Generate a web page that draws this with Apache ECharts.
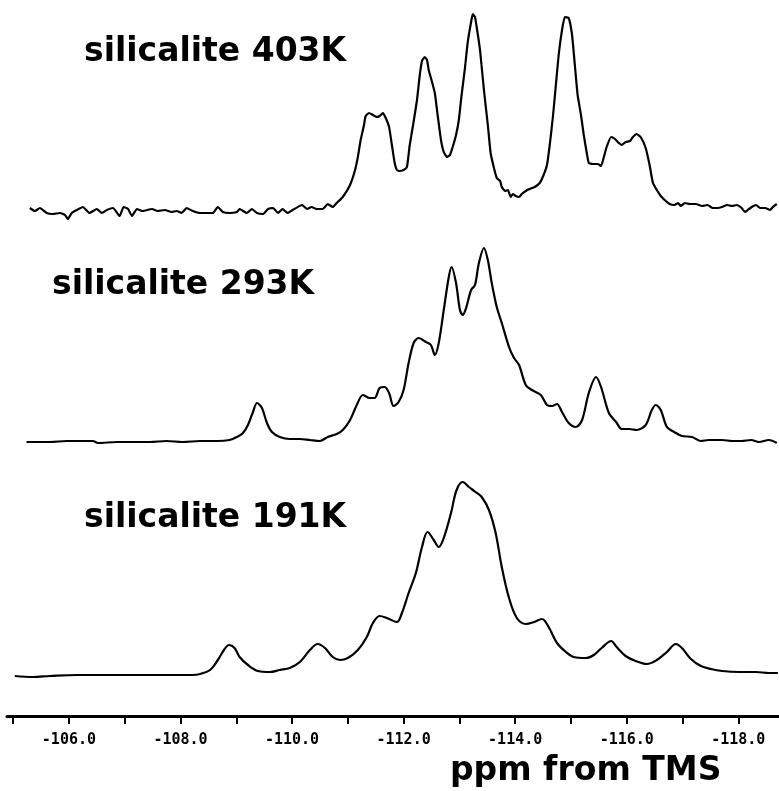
<!DOCTYPE html>
<html>
<head>
<meta charset="utf-8">
<script src="https://cdn.jsdelivr.net/npm/echarts@6/dist/echarts.min.js"></script>
<style>
  html, body { margin: 0; padding: 0; background: #fff; }
  #chart { width: 779px; height: 791px; }
</style>
</head>
<body>
<div id="chart"></div>
<script>
// 29Si MAS NMR spectra of silicalite at three temperatures.
// Chemical shift in ppm from TMS, intensity in arbitrary units above baseline.

const shift403K = [
  -105.30, -105.39, -105.48, -105.60, -105.71, -105.84, -105.93, -105.98, -106.05, -106.14,
  -106.25, -106.37, -106.50, -106.59, -106.68, -106.79, -106.91, -106.98, -107.06, -107.13,
  -107.22, -107.32, -107.49, -107.59, -107.72, -107.84, -107.93, -108.02, -108.11, -108.22,
  -108.35, -108.47, -108.58, -108.67, -108.76, -108.88, -109.01, -109.06, -109.19, -109.28,
  -109.37, -109.48, -109.57, -109.66, -109.75, -109.83, -109.92, -110.01, -110.18, -110.27,
  -110.35, -110.44, -110.55, -110.64, -110.73, -110.80, -110.91, -111.04, -111.13, -111.18,
  -111.23, -111.29, -111.32, -111.38, -111.45, -111.52, -111.57, -111.63, -111.68, -111.74,
  -111.79, -111.84, -111.88, -111.93, -112.00, -112.06, -112.11, -112.17, -112.24, -112.29,
  -112.33, -112.38, -112.42, -112.45, -112.51, -112.56, -112.61, -112.67, -112.72, -112.78,
  -112.83, -112.88, -112.94, -112.99, -113.04, -113.10, -113.15, -113.21, -113.24, -113.28,
  -113.31, -113.37, -113.44, -113.51, -113.56, -113.62, -113.67, -113.73, -113.76, -113.82,
  -113.87, -113.92, -113.96, -114.01, -114.07, -114.12, -114.19, -114.26, -114.35, -114.44,
  -114.51, -114.57, -114.62, -114.68, -114.73, -114.78, -114.84, -114.89, -114.96, -115.02,
  -115.07, -115.12, -115.18, -115.23, -115.29, -115.32, -115.39, -115.48, -115.54, -115.59,
  -115.64, -115.72, -115.79, -115.86, -115.91, -115.98, -116.06, -116.11, -116.18, -116.25,
  -116.34, -116.41, -116.47, -116.54, -116.61, -116.70, -116.77, -116.85, -116.92, -116.97,
  -117.04, -117.13, -117.24, -117.35, -117.45, -117.54, -117.63, -117.71, -117.80, -117.89,
  -117.97, -118.06, -118.12, -118.17, -118.24, -118.32, -118.39, -118.48, -118.57, -118.62,
  -118.69
];
const intensity403K = [
  2, -1, 2, -3, -4, -3, -5, -9, -3, 0,
  3, -3, 1, -3, 0, 2, -6, 3, 1, -6,
  1, -1, 1, -1, 0, -2, -1, -3, 2, -1,
  -3, -3, -3, 3, -2, -3, -2, 1, -3, 1,
  -3, -4, 1, 2, -3, 1, -3, 0, 5, 1,
  3, 1, 1, 6, 3, 7, 13, 25, 40, 53,
  70, 85, 94, 97, 95, 93, 94, 97, 92, 83,
  65, 47, 40, 39, 40, 43, 65, 85, 110, 135,
  149, 153, 150, 140, 128, 117, 95, 70, 58, 53,
  55, 63, 75, 90, 115, 142, 168, 188, 196, 193,
  183, 160, 120, 85, 57, 42, 32, 29, 23, 19,
  20, 13, 16, 14, 13, 16, 19, 21, 23, 27,
  35, 45, 65, 95, 125, 155, 180, 193, 192, 175,
  145, 115, 95, 75, 55, 47, 46, 46, 44, 53,
  63, 73, 71, 67, 65, 68, 69, 73, 76, 73,
  62, 45, 27, 20, 14, 9, 6, 5, 7, 4,
  7, 6, 6, 4, 5, 2, 2, 3, 5, 4,
  5, 2, -2, 0, 3, 5, 2, 2, 0, 3,
  6
];

const shift293K = [
  -105.24, -105.66, -105.96, -106.43, -106.52, -106.86, -107.45, -107.75, -108.04, -108.35,
  -108.65, -108.88, -109.01, -109.12, -109.21, -109.30, -109.37, -109.46, -109.55, -109.64,
  -109.78, -109.96, -110.14, -110.32, -110.50, -110.64, -110.80, -110.91, -111.04, -111.16,
  -111.27, -111.39, -111.48, -111.57, -111.66, -111.74, -111.82, -111.91, -112.00, -112.09,
  -112.18, -112.27, -112.40, -112.49, -112.56, -112.63, -112.72, -112.81, -112.86, -112.94,
  -113.01, -113.06, -113.12, -113.21, -113.28, -113.35, -113.44, -113.51, -113.58, -113.67,
  -113.76, -113.89, -113.98, -114.07, -114.19, -114.30, -114.46, -114.57, -114.66, -114.75,
  -114.84, -114.96, -115.09, -115.20, -115.32, -115.45, -115.54, -115.68, -115.81, -115.91,
  -116.04, -116.18, -116.34, -116.45, -116.52, -116.61, -116.72, -116.85, -116.99, -117.17,
  -117.33, -117.47, -117.71, -117.89, -118.06, -118.23, -118.37, -118.55, -118.69
];
const intensity293K = [
  -1, -1, 0, 0, -2, -1, -1, 0, -1, 0,
  0, 1, 4, 8, 16, 29, 38, 33, 18, 9,
  4, 2, 2, 1, 0, 4, 7, 11, 21, 36,
  46, 43, 43, 53, 54, 48, 35, 39, 51, 78,
  98, 103, 99, 96, 86, 98, 131, 164, 174, 158,
  131, 126, 133, 151, 156, 178, 193, 181, 158, 134,
  118, 94, 83, 76, 56, 51, 46, 36, 35, 37,
  29, 18, 14, 21, 48, 64, 54, 28, 19, 12,
  12, 11, 16, 31, 36, 31, 14, 9, 5, 4,
  0, 1, 1, 0, 0, 1, -1, 1, -2
];

const shift191K = [
  -105.03, -105.35, -105.66, -106.14, -106.55, -107.14, -107.75, -108.22, -108.35, -108.53,
  -108.67, -108.78, -108.87, -108.97, -109.06, -109.21, -109.39, -109.60, -109.78, -109.96,
  -110.14, -110.32, -110.46, -110.59, -110.73, -110.86, -111.00, -111.18, -111.34, -111.45,
  -111.57, -111.70, -111.88, -111.97, -112.09, -112.22, -112.33, -112.43, -112.54, -112.63,
  -112.72, -112.85, -112.95, -113.06, -113.17, -113.29, -113.40, -113.53, -113.65, -113.76,
  -113.89, -114.03, -114.19, -114.34, -114.48, -114.60, -114.75, -114.91, -115.05, -115.27,
  -115.41, -115.55, -115.72, -115.82, -115.98, -116.16, -116.36, -116.54, -116.72, -116.88,
  -116.99, -117.15, -117.33, -117.51, -117.71, -118.01, -118.32, -118.55, -118.71
];
const intensity191K = [
  -1, -2, -1, 0, 0, 0, 0, 0, 1, 5,
  15, 25, 30, 27, 18, 10, 4, 3, 5, 7,
  13, 25, 31, 27, 18, 15, 17, 25, 38, 52,
  59, 57, 53, 62, 82, 102, 128, 143, 135, 128,
  137, 162, 185, 193, 188, 183, 178, 165, 142, 108,
  77, 57, 51, 53, 56, 48, 32, 23, 18, 17,
  20, 27, 34, 28, 19, 14, 11, 15, 23, 31,
  27, 16, 9, 6, 4, 3, 3, 2, 2
];

const spectrumTitles = ['silicalite 403K', 'silicalite 293K', 'silicalite 191K'];
const tickShifts = [-105, -106, -107, -108, -109, -110, -111, -112, -113, -114, -115, -116, -117, -118];
const labelShifts = [-106, -108, -110, -112, -114, -116, -118];
const axisName = 'ppm from TMS';

function pairs(xs, ys) {
  return xs.map((x, i) => [x, ys[i]]);
}

const X_MIN = -118.73, X_MAX = -104.89;
const INK = '#000';

const grids = [
  { left: 7, right: 0, top: 10, height: 220 },
  { left: 7, right: 0, top: 241, height: 220 },
  { left: 7, right: 0, top: 475, height: 241 }
];

const xAxes = grids.map((g, i) => {
  const isBottom = i === grids.length - 1;
  return {
    type: 'value',
    gridIndex: i,
    min: X_MIN,
    max: X_MAX,
    inverse: true,
    show: isBottom,
    splitLine: { show: false },
    axisLine: { show: isBottom, onZero: false, lineStyle: { color: INK, width: 3 } },
    axisTick: {
      show: isBottom,
      customValues: tickShifts,
      inside: false,
      length: 8,
      lineStyle: { color: INK, width: 2 }
    },
    axisLabel: {
      show: isBottom,
      customValues: labelShifts,
      formatter: v => Number(v).toFixed(1),
      color: INK,
      fontFamily: 'DejaVu Sans Mono',
      fontWeight: 'bold',
      fontSize: 15,
      margin: 17
    }
  };
});

const yAxes = [
  { type: 'value', gridIndex: 0, min: -20, max: 200, show: false },
  { type: 'value', gridIndex: 1, min: -20, max: 200, show: false },
  { type: 'value', gridIndex: 2, min: -41, max: 200, show: false }
];

function trace(name, xs, ys, idx, smooth) {
  return {
    name,
    type: 'line',
    xAxisIndex: idx,
    yAxisIndex: idx,
    data: pairs(xs, ys),
    showSymbol: false,
    symbol: 'none',
    smooth,
    clip: false,
    lineStyle: { color: INK, width: 2.2 }
  };
}

const titleFont = 'bold 33px "DejaVu Sans", sans-serif';

const chart = echarts.init(document.getElementById('chart'), null, { renderer: 'canvas' });
chart.setOption({
  animation: false,
  backgroundColor: '#fff',
  grid: grids,
  xAxis: xAxes,
  yAxis: yAxes,
  series: [
    trace(spectrumTitles[0], shift403K, intensity403K, 0, 0.15),
    trace(spectrumTitles[1], shift293K, intensity293K, 1, 0.3),
    trace(spectrumTitles[2], shift191K, intensity191K, 2, 0.35)
  ],
  graphic: [
    { type: 'text', left: 84, top: 36, style: { text: spectrumTitles[0], font: titleFont, fill: INK } },
    { type: 'text', left: 52, top: 269, style: { text: spectrumTitles[1], font: titleFont, fill: INK } },
    { type: 'text', left: 84, top: 502, style: { text: spectrumTitles[2], font: titleFont, fill: INK } },
    { type: 'text', left: 450, top: 755, style: { text: axisName, font: titleFont, fill: INK } }
  ]
});
</script>
</body>
</html>
